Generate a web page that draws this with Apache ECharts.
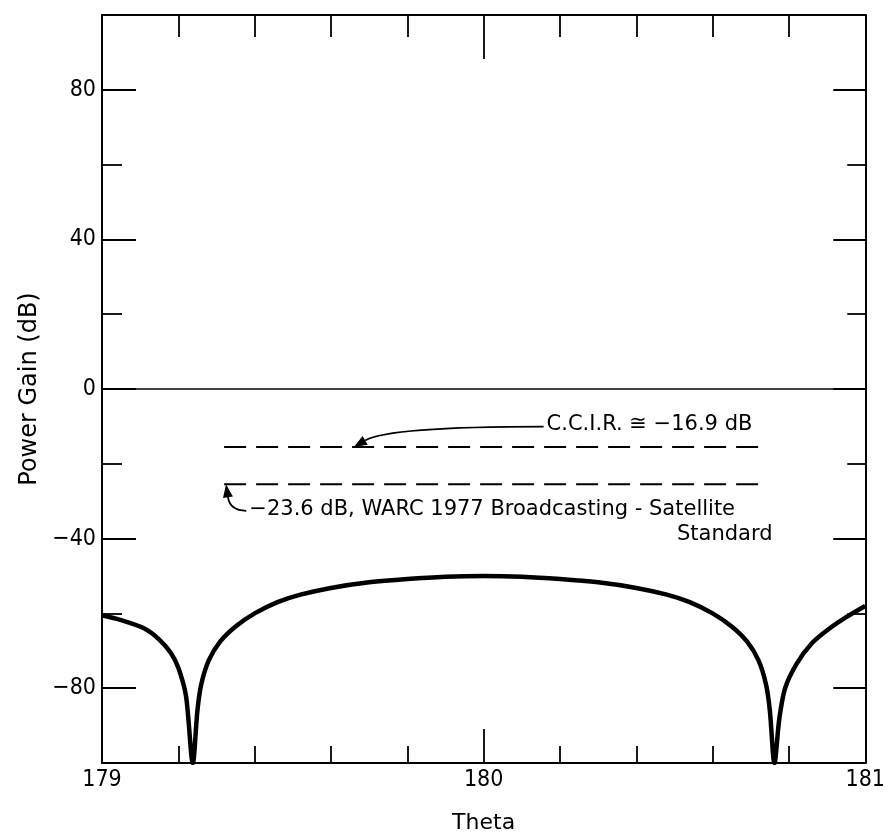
<!DOCTYPE html>
<html><head><meta charset="utf-8">
<script src="https://cdn.jsdelivr.net/npm/echarts@6/dist/echarts.min.js"></script>
<style>html,body{margin:0;padding:0;background:#fff}#c{width:888px;height:839px}</style>
</head><body><div id="c"></div>
<script>
// ---- data ----
const theta = [179.00,179.05,179.11,179.15,179.18,179.20,179.22,179.238,179.25,179.26,179.28,179.31,179.35,179.40,179.46,179.52,179.60,179.70,179.80,179.90,180.00,180.10,180.20,180.30,180.40,180.48,180.54,180.60,180.65,180.69,180.72,180.74,180.75,180.762,180.775,180.79,180.82,180.86,180.90,180.95,181.00];
const gain  = [-60.5,-61.8,-64,-67,-70.5,-74.5,-82,-100,-86,-79,-72.5,-67.5,-63.5,-60,-57,-55,-53.2,-51.7,-50.8,-50.2,-50,-50.2,-50.8,-51.7,-53.2,-55,-57,-60,-63.5,-67.5,-72.5,-79,-86,-100,-88,-80,-73.5,-68,-64.5,-61,-58];
const xLabelValues = [179, 180, 181];
const xMinorTicks = [179.2,179.4,179.6,179.8,180.2,180.4,180.6,180.8];
const xMajorTicks = [180];
const yLabelValues = [80, 40, 0, -40, -80];
const yMinorTicks = [60, 20, -20, -60];
const refTheta = [179.32, 180.73];
const ccirLevel = -15.5;
const warcLevel = -25.5;
const ccirText = 'C.C.I.R. \u2245 \u221216.9 dB';
const warcText1 = '\u221223.6 dB, WARC 1977 Broadcasting - Satellite';
const warcText2 = 'Standard';
const ccirTextAt = [180.165, -9.5];
const ccirHeadAt = [179.66, -15.5];
const warcTextAt = [179.386, -32.3];
const warcHeadAt = [179.325, -25.5];
const stdTextAt = [180.757, -39];

const FONT = '"DejaVu Sans"';
const NUMFONT = '"DejaVu Sans Condensed","Liberation Sans",sans-serif';
const BLK = '#000';

const chart = echarts.init(document.getElementById('c'), null, {renderer: 'canvas'});

function xAx(pos, ticks, len, showLine, labels) {
  return {
    type: 'value', position: pos, min: 179, max: 181,
    axisLine: {show: showLine, onZero: false, lineStyle: {color: BLK, width: 2}},
    axisTick: {show: true, inside: true, length: len, customValues: ticks, lineStyle: {color: BLK, width: 1.8}},
    axisLabel: labels ? {show: true, customValues: labels, color: BLK, fontFamily: NUMFONT, fontSize: 23, margin: 6, formatter: v => String(Math.round(v))} : {show: false},
    splitLine: {show: false}
  };
}
function yAx(pos, ticks, len, showLine, labels) {
  return {
    type: 'value', position: pos, min: -100, max: 100,
    axisLine: {show: showLine, onZero: false, lineStyle: {color: BLK, width: 2}},
    axisTick: {show: true, inside: true, length: len, customValues: ticks, lineStyle: {color: BLK, width: 1.8}},
    axisLabel: labels ? {show: true, customValues: labels, color: BLK, fontFamily: NUMFONT, fontSize: 23, margin: 6,
      formatter: v => (v < 0 ? '\u2212' + Math.abs(v) : String(v))} : {show: false},
    splitLine: {show: false}
  };
}

const xAxes = [
  Object.assign(xAx('bottom', xMinorTicks, 17, true, xLabelValues), {name: 'Theta', nameLocation: 'middle', nameGap: 49, nameTextStyle: {fontFamily: FONT, fontSize: 22, color: BLK}}),
  xAx('bottom', xMajorTicks, 34, false, null),
  xAx('top', xMinorTicks, 22, true, null),
  xAx('top', xMajorTicks, 44, false, null)
];
const yAxes = [
  Object.assign(yAx('left', yLabelValues, 34, true, yLabelValues), {name: 'Power Gain (dB)', nameLocation: 'middle', nameGap: 46, nameRotate: 90, nameTextStyle: {fontFamily: FONT, fontSize: 24, color: BLK}}),
  yAx('left', yMinorTicks, 20, false, null),
  yAx('right', yLabelValues, 32, true, null),
  yAx('right', yMinorTicks, 18, false, null)
];

const dashStyle = {color: BLK, width: 2, type: [22, 10]};

chart.setOption({
  animation: false,
  backgroundColor: '#fff',
  grid: {left: 102, right: 17, top: 15, bottom: 64, containLabel: false},
  xAxis: xAxes,
  yAxis: yAxes,
  series: [
    {type: 'line', name: 'zero', data: [[179, 0], [181, 0]], symbol: 'none', lineStyle: {color: BLK, width: 1.6}, z: 3},
    {type: 'line', name: 'gain', data: theta.map((t, i) => [t, gain[i]]), symbol: 'none', smooth: 0.3, lineStyle: {color: BLK, width: 4.5}, z: 5},
    {type: 'line', name: 'CCIR', data: refTheta.map(t => [t, ccirLevel]), symbol: 'none', lineStyle: dashStyle},
    {type: 'line', name: 'WARC', data: refTheta.map(t => [t, warcLevel]), symbol: 'none', lineStyle: dashStyle}
  ]
});

function px(p) { return chart.convertToPixel({xAxisIndex: 0, yAxisIndex: 0}, p); }
function arrow(tail, head, cp) {
  const ang = Math.atan2(head[1] - cp[1], head[0] - cp[0]);
  const L = 13, W = 5;
  const bx = head[0] - L * Math.cos(ang), by = head[1] - L * Math.sin(ang);
  const nx = -Math.sin(ang) * W, ny = Math.cos(ang) * W;
  return [
    {type: 'bezierCurve', shape: {x1: tail[0], y1: tail[1], x2: bx, y2: by, cpx1: cp[0], cpy1: cp[1]}, style: {stroke: BLK, lineWidth: 1.8, fill: null}},
    {type: 'polygon', shape: {points: [[head[0], head[1]], [bx + nx, by + ny], [bx - nx, by - ny]]}, style: {fill: BLK}}
  ];
}
const tStyle = {fill: BLK, font: '21px "DejaVu Sans"'};
const a = px(ccirTextAt), ah = px(ccirHeadAt), b = px(warcTextAt), bh = px(warcHeadAt), c = px(stdTextAt);
const aTail = [a[0] - 3, a[1] + 2];
const bTail = [b[0] - 3, b[1] + 1];
chart.setOption({
  graphic: [
    {type: 'text', x: a[0], y: a[1], style: Object.assign({text: ccirText, textAlign: 'left', textVerticalAlign: 'middle'}, tStyle)},
    {type: 'text', x: b[0], y: b[1], style: Object.assign({text: warcText1, textAlign: 'left', textVerticalAlign: 'middle'}, tStyle)},
    {type: 'text', x: c[0], y: c[1], style: Object.assign({text: warcText2, textAlign: 'right', textVerticalAlign: 'middle'}, tStyle)}
  ].concat(arrow(aTail, ah, [ah[0] + 35, aTail[1]]), arrow(bTail, bh, [bh[0] + 4, bTail[1]]))
});
</script></body></html>
